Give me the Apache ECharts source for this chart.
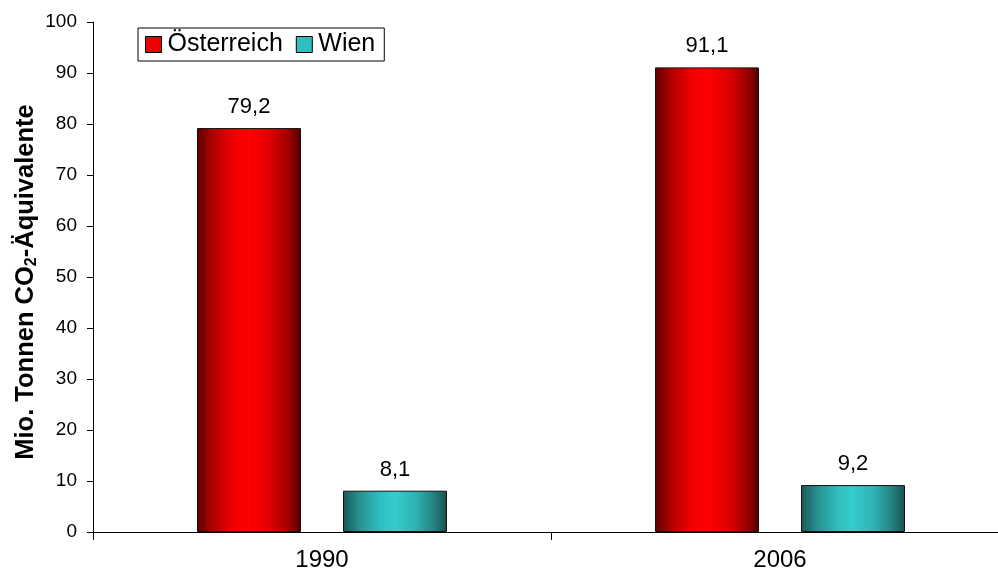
<!DOCTYPE html>
<html>
<head>
<meta charset="utf-8">
<script src="https://cdn.jsdelivr.net/npm/echarts@6/dist/echarts.min.js"></script>
<style>html,body{margin:0;padding:0;background:#fff}#c{width:998px;height:574px}</style>
</head>
<body>
<div id="c"></div>
<script>
const categories = ['1990', '2006'];
const oesterreich = [79.2, 91.1];
const wien = [8.1, 9.2];
const seriesNames = ['Österreich', 'Wien'];

function grad(stops) {
  return new echarts.graphic.LinearGradient(0, 0, 1, 0,
    stops.map(s => ({offset: s[0], color: s[1]})));
}
const redG = grad([[0, '#5c0000'], [0.15, '#b00000'], [0.35, '#f00000'], [0.5, '#ff0000'], [0.7, '#e00000'], [0.88, '#a00000'], [1, '#500000']]);
const tealG = grad([[0, '#1d5656'], [0.15, '#268f8f'], [0.35, '#30bdbd'], [0.5, '#35cccc'], [0.7, '#2eb3b3'], [0.88, '#228080'], [1, '#1a4f4f']]);

const chart = echarts.init(document.getElementById('c'));
const fontFamily = 'Liberation Sans, Arial, sans-serif';
const lbl = v => String(v.value).replace('.', ',');
chart.setOption({
  animation: false,
  textStyle: {fontFamily: fontFamily},
  grid: {left: 93, top: 22, width: 916, height: 510, containLabel: false, outerBoundsMode: 'none'},
  legend: {
    left: 138, top: 28,
    orient: 'horizontal',
    borderColor: '#000', borderWidth: 1, borderRadius: 0,
    padding: [4, 9, 4, 7],
    itemGap: 13, itemWidth: 16, itemHeight: 16,
    icon: 'rect',
    textStyle: {fontSize: 25, color: '#000', fontFamily: fontFamily, padding: [0, 0, 0, 1]},
    data: [
      {name: seriesNames[0], itemStyle: {color: '#ee0000', borderColor: '#000', borderWidth: 1}},
      {name: seriesNames[1], itemStyle: {color: '#2fbfbf', borderColor: '#000', borderWidth: 1}}
    ]
  },
  xAxis: {
    type: 'category', data: categories,
    axisLine: {lineStyle: {color: '#000', width: 1}},
    axisTick: {show: true, alignWithLabel: false, length: 8, lineStyle: {color: '#000'}},
    axisLabel: {fontSize: 24, color: '#000', margin: 16}
  },
  yAxis: {
    type: 'value', min: 0, max: 100, interval: 10,
    name: '{a|Mio. Tonnen CO}{s|2}{a|-Äquivalente}',
    nameLocation: 'middle', nameGap: 53, nameRotate: 90,
    nameMoveOverlap: false,
    nameTextStyle: {
      padding: [0, 10, 0, 0],
      rich: {
        a: {fontSize: 25.5, fontWeight: 'bold', color: '#000', fontFamily: fontFamily},
        s: {fontSize: 16, fontWeight: 'bold', color: '#000', fontFamily: fontFamily, verticalAlign: 'bottom', padding: [12, 0, 0, 0]}
      }
    },
    axisLine: {show: true, lineStyle: {color: '#000', width: 1}},
    axisTick: {show: true, length: 6, lineStyle: {color: '#000'}},
    splitLine: {show: false},
    axisLabel: {fontSize: 19, color: '#000', margin: 16}
  },
  series: [
    {
      name: seriesNames[0], type: 'bar', data: oesterreich,
      barWidth: 104, barGap: '40.4%',
      itemStyle: {color: redG, borderColor: '#111', borderWidth: 1},
      label: {show: true, position: 'top', distance: 10, fontSize: 22, color: '#000', formatter: lbl}
    },
    {
      name: seriesNames[1], type: 'bar', data: wien,
      barWidth: 104,
      itemStyle: {color: tealG, borderColor: '#111', borderWidth: 1},
      label: {show: true, position: 'top', distance: 10, fontSize: 22, color: '#000', formatter: lbl}
    }
  ]
});
</script>
</body>
</html>
